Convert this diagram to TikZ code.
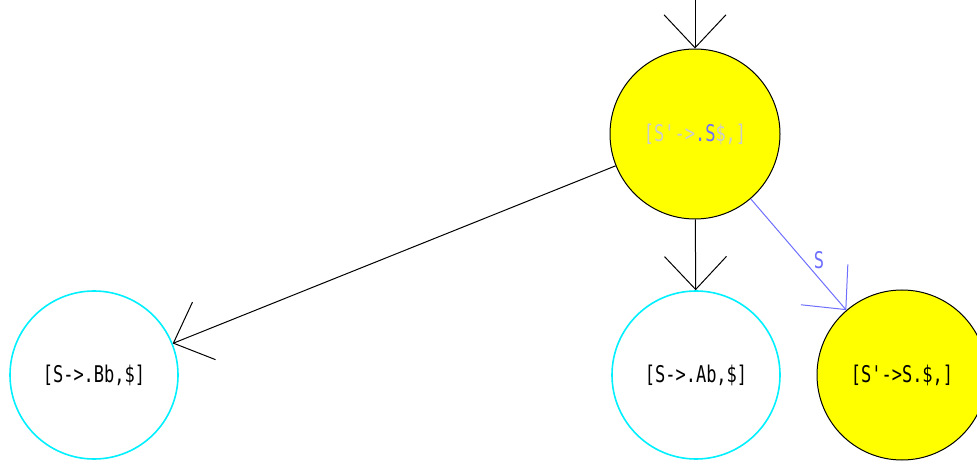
\documentclass[tikz,border=0pt]{standalone}
\usepackage{fontspec}
\setmonofont{DejaVu Sans Mono}
\usetikzlibrary{arrows.meta}
\definecolor{stateyellow}{RGB}{255,255,0}
\definecolor{statecyan}{RGB}{0,240,255}
\definecolor{edgeblue}{RGB}{110,110,255}
\definecolor{textgray}{RGB}{205,205,205}
\newcommand{\lbl}[1]{\scalebox{0.74}[1]{\fontsize{23}{26}\ttfamily #1}}
\tikzset{
  every node/.style={inner sep=0pt},
  yellowstate/.style={circle, draw=black, fill=stateyellow, line width=1pt, minimum size=170pt},
  cyanstate/.style={circle, draw=statecyan, line width=1.6pt, minimum size=168pt},
  edge/.style={line width=1pt, -{Straight Barb[length=33pt,width=62pt,line width=1pt]}},
}
\begin{document}
\begin{tikzpicture}[x=1pt,y=-1pt]
\useasboundingbox (0,0) rectangle (977,462);
\node[yellowstate] (top) at (695,134) {\lbl{\textcolor{textgray}{[S'->}\textcolor{edgeblue}{.S}\textcolor{textgray}{\$,]}}};
\node[cyanstate] (bl) at (94,375) {\lbl{[S->.Bb,\$]}};
\node[cyanstate] (bm) at (696,375) {\lbl{[S->.Ab,\$]}};
\node[yellowstate] (br) at (902,375) {\lbl{[S'->S.\$,]}};
\coordinate (in) at (695,-5);
\draw[edge] (in) -- (top);
\draw[edge] (top) -- (bm);
\draw[edge] (top) -- (bl);
\draw[edge, draw=edgeblue] (top) -- node[pos=0.55, right=10pt, text=edgeblue] {\lbl{S}} (br);
\end{tikzpicture}
\end{document}
